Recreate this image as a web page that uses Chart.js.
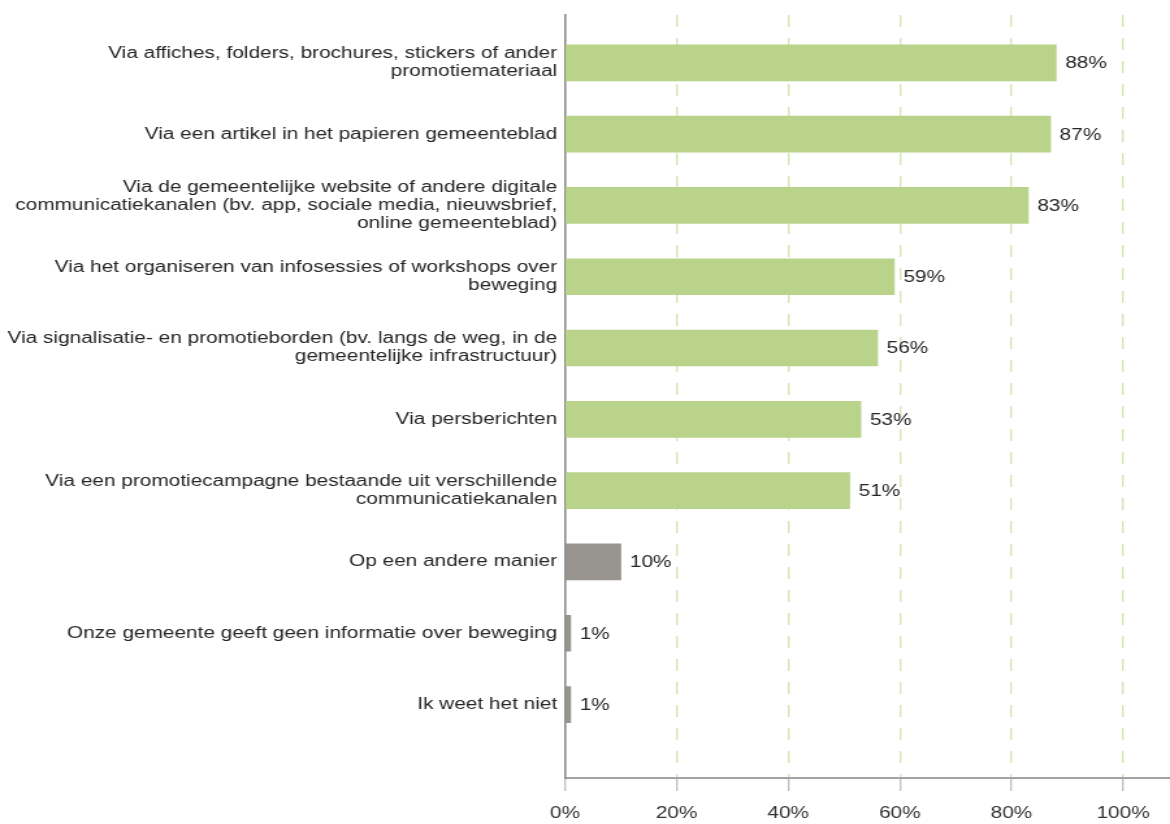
<!DOCTYPE html>
<html>
<head>
<meta charset="utf-8">
<script src="https://cdn.jsdelivr.net/npm/chart.js@4/dist/chart.umd.min.js"></script>
<style>
  html, body { margin: 0; padding: 0; background: #fff; overflow: hidden; }
  #wrap { width: 1170px; height: 824px; }
  /* chart is drawn 900 wide and stretched to the page width */
  #myChart { width: 1170px; height: 824px; display: block; }
</style>
</head>
<body>
<div id="wrap"><canvas id="myChart" width="900" height="824" style="width:1170px;height:824px"></canvas></div>
<script>
const categories = [
  ["Via affiches, folders, brochures, stickers of ander", "promotiemateriaal"],
  "Via een artikel in het papieren gemeenteblad",
  ["Via de gemeentelijke website of andere digitale", "communicatiekanalen (bv. app, sociale media, nieuwsbrief,", "online gemeenteblad)"],
  ["Via het organiseren van infosessies of workshops over", "beweging"],
  ["Via signalisatie- en promotieborden (bv. langs de weg, in de", "gemeentelijke infrastructuur)"],
  "Via persberichten",
  ["Via een promotiecampagne bestaande uit verschillende", "communicatiekanalen"],
  "Op een andere manier",
  "Onze gemeente geeft geen informatie over beweging",
  "Ik weet het niet"
];
const percentages = [88, 87, 83, 59, 56, 53, 51, 10, 1, 1];
const xTicks = [0, 20, 40, 60, 80, 100];

const GREEN = '#bad38b';
const GREY = '#98948f';
const FONT = '"Liberation Sans", Arial, sans-serif';

document.addEventListener("DOMContentLoaded", () => {
   // last three answers are the "other" answers, drawn in grey
   const barColors = percentages.map((v, i) => i < 7 ? GREEN : GREY);
   const points = percentages.map((v, i) => ({ x: v, y: i }));

   // percentage text right of each bar
   const valueLabels = {
      id: 'valueLabels',
      afterDatasetsDraw(chart) {
         const ctx = chart.ctx;
         const meta = chart.getDatasetMeta(0);
         ctx.save();
         ctx.font = '16px ' + FONT;
         ctx.fillStyle = '#262626';
         ctx.textAlign = 'left';
         ctx.textBaseline = 'middle';
         meta.data.forEach((bar, i) => {
            ctx.fillText(percentages[i] + '%', bar.x + 7, bar.y + 1);
         });
         ctx.restore();
      }
   };

   const ctx = document.getElementById('myChart').getContext('2d');
   new Chart(ctx, {
      type: 'bar',
      data: {
         datasets: [{
            data: points,
            backgroundColor: barColors,
            borderWidth: 0,
            barThickness: 36
         }]
      },
      options: {
         indexAxis: 'y',
         responsive: false,
         maintainAspectRatio: false,
         animation: false,
         layout: { padding: { top: 13, right: 0, left: 0, bottom: 0 } },
         plugins: {
            legend: { display: false },
            tooltip: { enabled: false }
         },
         scales: {
            x: {
               type: 'linear',
               min: 0,
               max: 108.4,
               afterBuildTicks: (scale) => {
                  scale.ticks = xTicks.map(v => ({ value: v }));
               },
               afterFit: (scale) => { scale.height = 46; },
               ticks: {
                  callback: (v) => v + '%',
                  color: '#333',
                  font: { family: FONT, size: 16 },
                  padding: 13,
                  maxRotation: 0
               },
               grid: {
                  color: (c) => (c.tick && c.tick.value === 0) ? 'rgba(0,0,0,0)' : '#d3e6b3',
                  lineWidth: 1.4,
                  tickColor: '#b8b8b8',
                  tickLength: 13,
                  tickWidth: 1.2,
                  tickBorderDash: []
               },
               border: { color: '#a3a3a3', width: 2, dash: [12, 11] }
            },
            y: {
               type: 'linear',
               reverse: true,
               offset: false,
               min: -0.67,
               max: 10.03,
               afterBuildTicks: (scale) => {
                  scale.ticks = categories.map((c, i) => ({ value: i }));
               },
               afterFit: (scale) => { scale.width = 434.6; },
               ticks: {
                  autoSkip: false,
                  callback: (v) => categories[v],
                  color: '#262626',
                  font: { family: FONT, size: 16, lineHeight: 1.13 },
                  padding: 6
               },
               grid: { display: false, drawTicks: false, offset: false },
               border: { color: '#8c8c8c', width: 1.6 }
            }
         }
      },
      plugins: [valueLabels]
   });
});
</script>
</body>
</html>
